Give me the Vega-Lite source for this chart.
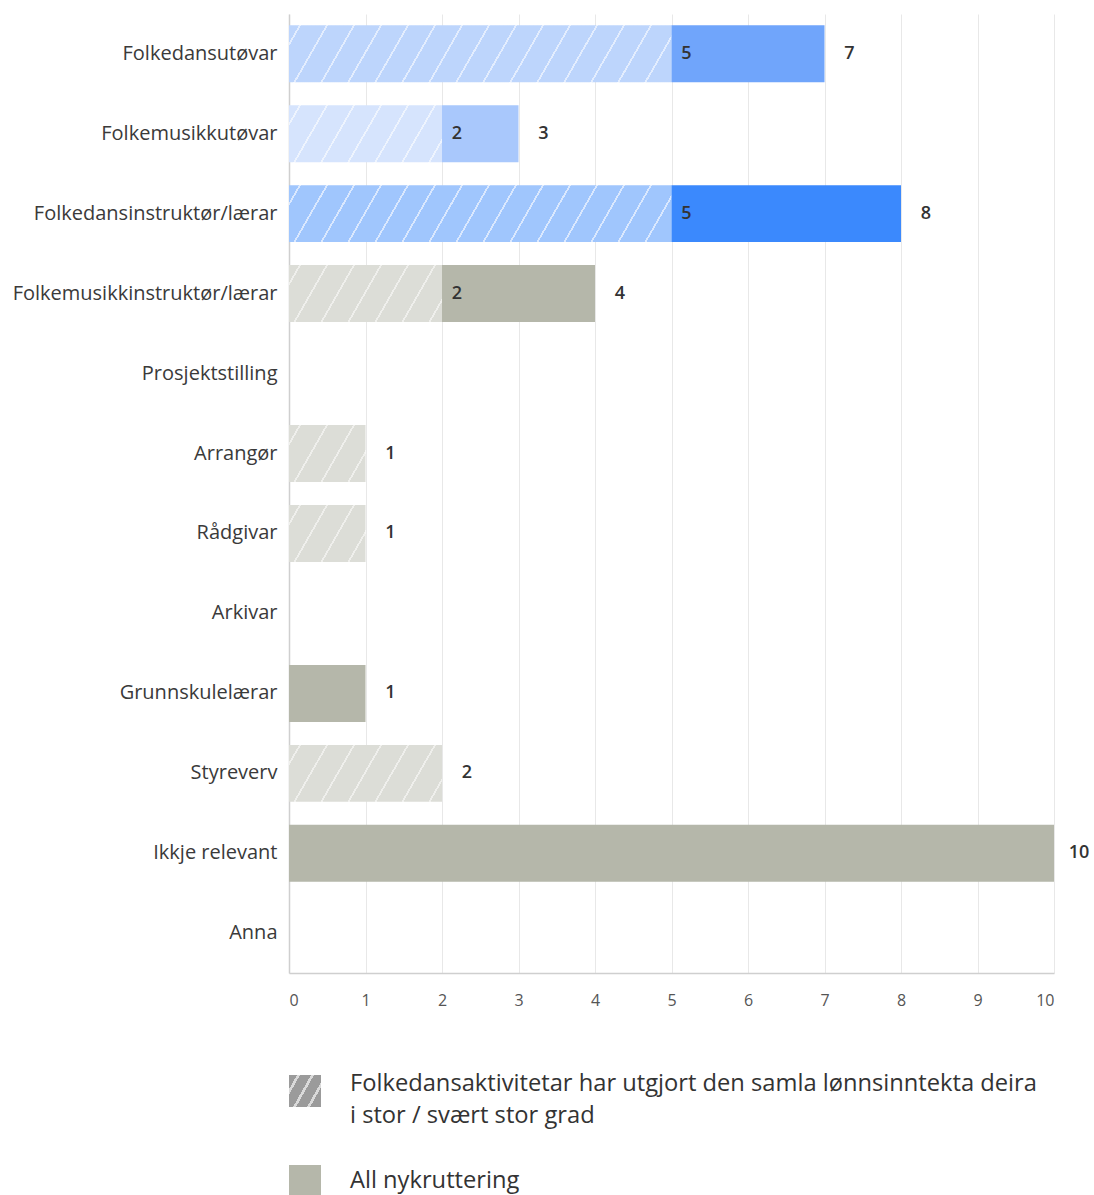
{
  "$schema": "https://vega.github.io/schema/vega-lite/v6.json",
  "autosize": {"type": "none"},
  "padding": {"left": 289, "top": 14, "right": 40, "bottom": 222},
  "width": 765,
  "height": 959,
  "background": "white",
  "config": {
    "view": {"stroke": null},
    "font": "Open Sans",
    "style": {"guide-label": {"lineHeight": 32}}
  },
  "data": {
    "values": [
      {"cat": "Folkedansutøvar", "hatch": 5, "total": 7},
      {"cat": "Folkemusikkutøvar", "hatch": 2, "total": 3},
      {"cat": "Folkedansinstruktør/lærar", "hatch": 5, "total": 8},
      {"cat": "Folkemusikkinstruktør/lærar", "hatch": 2, "total": 4},
      {"cat": "Prosjektstilling", "hatch": 0, "total": 0},
      {"cat": "Arrangør", "hatch": 1, "total": 1},
      {"cat": "Rådgivar", "hatch": 1, "total": 1},
      {"cat": "Arkivar", "hatch": 0, "total": 0},
      {"cat": "Grunnskulelærar", "hatch": 0, "total": 1},
      {"cat": "Styreverv", "hatch": 2, "total": 2},
      {"cat": "Ikkje relevant", "hatch": 0, "total": 10},
      {"cat": "Anna", "hatch": 0, "total": 0}
    ]
  },
  "encoding": {
    "y": {
      "field": "cat", "type": "nominal", "sort": null,
      "scale": {
        "domain": ["Folkedansutøvar", "Folkemusikkutøvar", "Folkedansinstruktør/lærar", "Folkemusikkinstruktør/lærar", "Prosjektstilling", "Arrangør", "Rådgivar", "Arkivar", "Grunnskulelærar", "Styreverv", "Ikkje relevant", "Anna"],
        "paddingInner": 0.2875, "paddingOuter": 0.14
      },
      "axis": {"title": null, "ticks": false, "domain": true, "domainColor": "#cfcfcf", "domainWidth": 1.5, "labelFontSize": 20, "labelColor": "#3a3a3a", "labelPadding": 12, "labelLimit": 300, "grid": false}
    },
    "x": {
      "type": "quantitative",
      "scale": {"domain": [0, 10], "nice": false},
      "axis": {"title": null, "values": [0,1,2,3,4,5,6,7,8,9,10], "ticks": false, "grid": true, "gridColor": "#e8e8e8", "domainColor": "#cfcfcf", "domainWidth": 1.5, "labelFlush": true, "labelFontSize": 16, "labelColor": "#555555", "labelPadding": 19}
    }
  },
  "layer": [
    {
      "transform": [{"filter": "datum.hatch > 0"}],
      "mark": {"type": "bar", "strokeWidth": 0},
      "encoding": {
        "x": {"field": "hatch", "type": "quantitative"},
        "fill": {
          "condition": [
            {"test": "datum.cat === 'Folkedansutøvar'", "value": {"gradient": "linear", "x1": 0, "y1": 0, "x2": 1.0852, "y2": 0.0925, "stops": [
              {"offset": 0.0239, "color": "#bdd5fc"}, {"offset": 0.0239, "color": "#e3edfe"}, {"offset": 0.0287, "color": "#e3edfe"}, {"offset": 0.0287, "color": "#bdd5fc"},
              {"offset": 0.0885, "color": "#bdd5fc"}, {"offset": 0.0885, "color": "#e3edfe"}, {"offset": 0.0933, "color": "#e3edfe"}, {"offset": 0.0933, "color": "#bdd5fc"},
              {"offset": 0.1531, "color": "#bdd5fc"}, {"offset": 0.1531, "color": "#e3edfe"}, {"offset": 0.1579, "color": "#e3edfe"}, {"offset": 0.1579, "color": "#bdd5fc"},
              {"offset": 0.2176, "color": "#bdd5fc"}, {"offset": 0.2176, "color": "#e3edfe"}, {"offset": 0.2224, "color": "#e3edfe"}, {"offset": 0.2224, "color": "#bdd5fc"},
              {"offset": 0.2822, "color": "#bdd5fc"}, {"offset": 0.2822, "color": "#e3edfe"}, {"offset": 0.2870, "color": "#e3edfe"}, {"offset": 0.2870, "color": "#bdd5fc"},
              {"offset": 0.3468, "color": "#bdd5fc"}, {"offset": 0.3468, "color": "#e3edfe"}, {"offset": 0.3516, "color": "#e3edfe"}, {"offset": 0.3516, "color": "#bdd5fc"},
              {"offset": 0.4114, "color": "#bdd5fc"}, {"offset": 0.4114, "color": "#e3edfe"}, {"offset": 0.4162, "color": "#e3edfe"}, {"offset": 0.4162, "color": "#bdd5fc"},
              {"offset": 0.4759, "color": "#bdd5fc"}, {"offset": 0.4759, "color": "#e3edfe"}, {"offset": 0.4807, "color": "#e3edfe"}, {"offset": 0.4807, "color": "#bdd5fc"},
              {"offset": 0.5405, "color": "#bdd5fc"}, {"offset": 0.5405, "color": "#e3edfe"}, {"offset": 0.5453, "color": "#e3edfe"}, {"offset": 0.5453, "color": "#bdd5fc"},
              {"offset": 0.6051, "color": "#bdd5fc"}, {"offset": 0.6051, "color": "#e3edfe"}, {"offset": 0.6099, "color": "#e3edfe"}, {"offset": 0.6099, "color": "#bdd5fc"},
              {"offset": 0.6697, "color": "#bdd5fc"}, {"offset": 0.6697, "color": "#e3edfe"}, {"offset": 0.6745, "color": "#e3edfe"}, {"offset": 0.6745, "color": "#bdd5fc"},
              {"offset": 0.7342, "color": "#bdd5fc"}, {"offset": 0.7342, "color": "#e3edfe"}, {"offset": 0.7390, "color": "#e3edfe"}, {"offset": 0.7390, "color": "#bdd5fc"},
              {"offset": 0.7988, "color": "#bdd5fc"}, {"offset": 0.7988, "color": "#e3edfe"}, {"offset": 0.8036, "color": "#e3edfe"}, {"offset": 0.8036, "color": "#bdd5fc"},
              {"offset": 0.8634, "color": "#bdd5fc"}, {"offset": 0.8634, "color": "#e3edfe"}, {"offset": 0.8682, "color": "#e3edfe"}, {"offset": 0.8682, "color": "#bdd5fc"},
              {"offset": 0.9280, "color": "#bdd5fc"}, {"offset": 0.9280, "color": "#e3edfe"}, {"offset": 0.9328, "color": "#e3edfe"}, {"offset": 0.9328, "color": "#bdd5fc"},
              {"offset": 0.9925, "color": "#bdd5fc"}, {"offset": 0.9925, "color": "#e3edfe"}, {"offset": 0.9973, "color": "#e3edfe"}, {"offset": 0.9973, "color": "#bdd5fc"}
            ]}},
            {"test": "datum.cat === 'Folkedansinstruktør/lærar'", "value": {"gradient": "linear", "x1": 0, "y1": 0, "x2": 1.0852, "y2": 0.0925, "stops": [
              {"offset": 0.0239, "color": "#a0c6fd"}, {"offset": 0.0239, "color": "#dae8fe"}, {"offset": 0.0287, "color": "#dae8fe"}, {"offset": 0.0287, "color": "#a0c6fd"},
              {"offset": 0.0885, "color": "#a0c6fd"}, {"offset": 0.0885, "color": "#dae8fe"}, {"offset": 0.0933, "color": "#dae8fe"}, {"offset": 0.0933, "color": "#a0c6fd"},
              {"offset": 0.1531, "color": "#a0c6fd"}, {"offset": 0.1531, "color": "#dae8fe"}, {"offset": 0.1579, "color": "#dae8fe"}, {"offset": 0.1579, "color": "#a0c6fd"},
              {"offset": 0.2176, "color": "#a0c6fd"}, {"offset": 0.2176, "color": "#dae8fe"}, {"offset": 0.2224, "color": "#dae8fe"}, {"offset": 0.2224, "color": "#a0c6fd"},
              {"offset": 0.2822, "color": "#a0c6fd"}, {"offset": 0.2822, "color": "#dae8fe"}, {"offset": 0.2870, "color": "#dae8fe"}, {"offset": 0.2870, "color": "#a0c6fd"},
              {"offset": 0.3468, "color": "#a0c6fd"}, {"offset": 0.3468, "color": "#dae8fe"}, {"offset": 0.3516, "color": "#dae8fe"}, {"offset": 0.3516, "color": "#a0c6fd"},
              {"offset": 0.4114, "color": "#a0c6fd"}, {"offset": 0.4114, "color": "#dae8fe"}, {"offset": 0.4162, "color": "#dae8fe"}, {"offset": 0.4162, "color": "#a0c6fd"},
              {"offset": 0.4759, "color": "#a0c6fd"}, {"offset": 0.4759, "color": "#dae8fe"}, {"offset": 0.4807, "color": "#dae8fe"}, {"offset": 0.4807, "color": "#a0c6fd"},
              {"offset": 0.5405, "color": "#a0c6fd"}, {"offset": 0.5405, "color": "#dae8fe"}, {"offset": 0.5453, "color": "#dae8fe"}, {"offset": 0.5453, "color": "#a0c6fd"},
              {"offset": 0.6051, "color": "#a0c6fd"}, {"offset": 0.6051, "color": "#dae8fe"}, {"offset": 0.6099, "color": "#dae8fe"}, {"offset": 0.6099, "color": "#a0c6fd"},
              {"offset": 0.6697, "color": "#a0c6fd"}, {"offset": 0.6697, "color": "#dae8fe"}, {"offset": 0.6745, "color": "#dae8fe"}, {"offset": 0.6745, "color": "#a0c6fd"},
              {"offset": 0.7342, "color": "#a0c6fd"}, {"offset": 0.7342, "color": "#dae8fe"}, {"offset": 0.7390, "color": "#dae8fe"}, {"offset": 0.7390, "color": "#a0c6fd"},
              {"offset": 0.7988, "color": "#a0c6fd"}, {"offset": 0.7988, "color": "#dae8fe"}, {"offset": 0.8036, "color": "#dae8fe"}, {"offset": 0.8036, "color": "#a0c6fd"},
              {"offset": 0.8634, "color": "#a0c6fd"}, {"offset": 0.8634, "color": "#dae8fe"}, {"offset": 0.8682, "color": "#dae8fe"}, {"offset": 0.8682, "color": "#a0c6fd"},
              {"offset": 0.9280, "color": "#a0c6fd"}, {"offset": 0.9280, "color": "#dae8fe"}, {"offset": 0.9328, "color": "#dae8fe"}, {"offset": 0.9328, "color": "#a0c6fd"},
              {"offset": 0.9925, "color": "#a0c6fd"}, {"offset": 0.9925, "color": "#dae8fe"}, {"offset": 0.9973, "color": "#dae8fe"}, {"offset": 0.9973, "color": "#a0c6fd"}
            ]}},
            {"test": "datum.cat === 'Folkemusikkutøvar'", "value": {"gradient": "linear", "x1": 0, "y1": 0, "x2": 1.2131, "y2": 0.2585, "stops": [
              {"offset": 0.0515, "color": "#d6e4fd"}, {"offset": 0.0515, "color": "#eef4fe"}, {"offset": 0.0618, "color": "#eef4fe"}, {"offset": 0.0618, "color": "#d6e4fd"},
              {"offset": 0.1907, "color": "#d6e4fd"}, {"offset": 0.1907, "color": "#eef4fe"}, {"offset": 0.2010, "color": "#eef4fe"}, {"offset": 0.2010, "color": "#d6e4fd"},
              {"offset": 0.3299, "color": "#d6e4fd"}, {"offset": 0.3299, "color": "#eef4fe"}, {"offset": 0.3402, "color": "#eef4fe"}, {"offset": 0.3402, "color": "#d6e4fd"},
              {"offset": 0.4690, "color": "#d6e4fd"}, {"offset": 0.4690, "color": "#eef4fe"}, {"offset": 0.4793, "color": "#eef4fe"}, {"offset": 0.4793, "color": "#d6e4fd"},
              {"offset": 0.6082, "color": "#d6e4fd"}, {"offset": 0.6082, "color": "#eef4fe"}, {"offset": 0.6185, "color": "#eef4fe"}, {"offset": 0.6185, "color": "#d6e4fd"},
              {"offset": 0.7473, "color": "#d6e4fd"}, {"offset": 0.7473, "color": "#eef4fe"}, {"offset": 0.7576, "color": "#eef4fe"}, {"offset": 0.7576, "color": "#d6e4fd"},
              {"offset": 0.8865, "color": "#d6e4fd"}, {"offset": 0.8865, "color": "#eef4fe"}, {"offset": 0.8968, "color": "#eef4fe"}, {"offset": 0.8968, "color": "#d6e4fd"}
            ]}},
            {"test": "datum.hatch === 2", "value": {"gradient": "linear", "x1": 0, "y1": 0, "x2": 1.2131, "y2": 0.2585, "stops": [
              {"offset": 0.0515, "color": "#dcddd7"}, {"offset": 0.0515, "color": "#efefec"}, {"offset": 0.0618, "color": "#efefec"}, {"offset": 0.0618, "color": "#dcddd7"},
              {"offset": 0.1907, "color": "#dcddd7"}, {"offset": 0.1907, "color": "#efefec"}, {"offset": 0.2010, "color": "#efefec"}, {"offset": 0.2010, "color": "#dcddd7"},
              {"offset": 0.3299, "color": "#dcddd7"}, {"offset": 0.3299, "color": "#efefec"}, {"offset": 0.3402, "color": "#efefec"}, {"offset": 0.3402, "color": "#dcddd7"},
              {"offset": 0.4690, "color": "#dcddd7"}, {"offset": 0.4690, "color": "#efefec"}, {"offset": 0.4793, "color": "#efefec"}, {"offset": 0.4793, "color": "#dcddd7"},
              {"offset": 0.6082, "color": "#dcddd7"}, {"offset": 0.6082, "color": "#efefec"}, {"offset": 0.6185, "color": "#efefec"}, {"offset": 0.6185, "color": "#dcddd7"},
              {"offset": 0.7473, "color": "#dcddd7"}, {"offset": 0.7473, "color": "#efefec"}, {"offset": 0.7576, "color": "#efefec"}, {"offset": 0.7576, "color": "#dcddd7"},
              {"offset": 0.8865, "color": "#dcddd7"}, {"offset": 0.8865, "color": "#efefec"}, {"offset": 0.8968, "color": "#efefec"}, {"offset": 0.8968, "color": "#dcddd7"}
            ]}}
          ],
          "value": {"gradient": "linear", "x1": 0, "y1": 0, "x2": 1.4261, "y2": 0.6077, "stops": [
            {"offset": 0.0776, "color": "#dcddd7"}, {"offset": 0.0776, "color": "#efefec"}, {"offset": 0.0931, "color": "#efefec"}, {"offset": 0.0931, "color": "#dcddd7"},
            {"offset": 0.2870, "color": "#dcddd7"}, {"offset": 0.2870, "color": "#efefec"}, {"offset": 0.3025, "color": "#efefec"}, {"offset": 0.3025, "color": "#dcddd7"},
            {"offset": 0.4965, "color": "#dcddd7"}, {"offset": 0.4965, "color": "#efefec"}, {"offset": 0.5120, "color": "#efefec"}, {"offset": 0.5120, "color": "#dcddd7"},
            {"offset": 0.7059, "color": "#dcddd7"}, {"offset": 0.7059, "color": "#efefec"}, {"offset": 0.7214, "color": "#efefec"}, {"offset": 0.7214, "color": "#dcddd7"}
          ]}
        }
      }
    },
    {
      "transform": [{"filter": "datum.total > datum.hatch"}],
      "mark": {"type": "bar", "strokeWidth": 0},
      "encoding": {
        "x": {"field": "hatch", "type": "quantitative"},
        "x2": {"field": "total"},
        "color": {
          "field": "cat", "type": "nominal", "legend": null,
          "scale": {
            "domain": ["Folkedansutøvar", "Folkemusikkutøvar", "Folkedansinstruktør/lærar", "Folkemusikkinstruktør/lærar", "Grunnskulelærar", "Ikkje relevant"],
            "range": ["#70a5fb", "#a9c8fc", "#3b89fd", "#b5b7aa", "#b5b7aa", "#b5b7aa"]
          }
        }
      }
    },
    {
      "transform": [{"filter": "datum.hatch > 0 && datum.total > datum.hatch"}],
      "mark": {"type": "text", "align": "center", "baseline": "middle", "dx": 15, "fontSize": 18, "fontWeight": 600, "color": "#333333"},
      "encoding": {
        "x": {"field": "hatch", "type": "quantitative"},
        "text": {"field": "hatch", "type": "quantitative"}
      }
    },
    {
      "transform": [{"filter": "datum.total > 0"}],
      "mark": {"type": "text", "align": "center", "baseline": "middle", "dx": 25, "fontSize": 18, "fontWeight": 600, "color": "#333333"},
      "encoding": {
        "x": {"field": "total", "type": "quantitative"},
        "text": {"field": "total", "type": "quantitative"}
      }
    },
    {
      "transform": [{"filter": "false"}],
      "mark": {"type": "point", "filled": true, "opacity": 1, "strokeWidth": 0},
      "encoding": {
        "x": {"field": "total", "type": "quantitative"},
        "shape": {
          "field": "k1", "type": "nominal",
          "scale": {
            "domain": ["Folkedansaktivitetar har utgjort den samla lønnsinntekta deira i stor / svært stor grad"],
            "range": ["square"]
          },
          "legend": {
            "title": null,
            "orient": "none",
            "legendX": 0,
            "legendY": 1061,
            "symbolSize": 1024,
            "symbolStrokeWidth": 0,
            "symbolOpacity": 1,
            "labelFontSize": 23.7,
            "labelColor": "#333333",
            "labelOffset": 29,
            "labelLimit": 900,
            "labelBaseline": "alphabetic",
            "labelExpr": "['Folkedansaktivitetar har utgjort den samla lønnsinntekta deira', 'i stor / svært stor grad']"
          }
        },
        "fill": {"value": {"gradient": "linear", "x1": 0, "y1": 0, "x2": 1.5625, "y2": 0.8789, "stops": [
          {"offset": 0.1215, "color": "#9b9b9b"}, {"offset": 0.1215, "color": "#dadada"}, {"offset": 0.1671, "color": "#dadada"}, {"offset": 0.1671, "color": "#9b9b9b"},
          {"offset": 0.3342, "color": "#9b9b9b"}, {"offset": 0.3342, "color": "#dadada"}, {"offset": 0.3798, "color": "#dadada"}, {"offset": 0.3798, "color": "#9b9b9b"},
          {"offset": 0.5469, "color": "#9b9b9b"}, {"offset": 0.5469, "color": "#dadada"}, {"offset": 0.5925, "color": "#dadada"}, {"offset": 0.5925, "color": "#9b9b9b"},
          {"offset": 0.7596, "color": "#9b9b9b"}, {"offset": 0.7596, "color": "#dadada"}, {"offset": 0.8052, "color": "#dadada"}, {"offset": 0.8052, "color": "#9b9b9b"}
        ]}}
      }
    },
    {
      "transform": [{"filter": "false"}],
      "mark": {"type": "square", "opacity": 1, "strokeWidth": 0},
      "encoding": {
        "x": {"field": "total", "type": "quantitative"},
        "fill": {
          "field": "k2", "type": "nominal",
          "scale": {"domain": ["All nykruttering"], "range": ["#b5b7aa"]},
          "legend": {
            "title": null,
            "orient": "none",
            "legendX": 0,
            "legendY": 1151,
            "symbolType": "square",
            "symbolSize": 1024,
            "symbolStrokeWidth": 0,
            "symbolOpacity": 1,
            "labelFontSize": 23.7,
            "labelColor": "#333333",
            "labelOffset": 29,
            "labelLimit": 900,
            "labelBaseline": "middle"
          }
        }
      }
    }
  ]
}
